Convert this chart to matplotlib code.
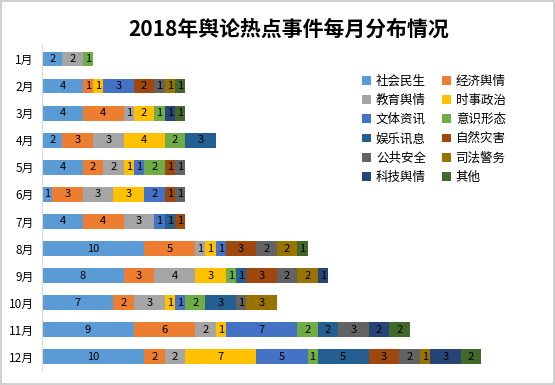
import matplotlib
matplotlib.use("Agg")
import matplotlib.pyplot as plt
import numpy as np

plt.rcParams["font.family"] = ["Noto Sans CJK SC", "DejaVu Sans"]

months = ["1月", "2月", "3月", "4月", "5月", "6月", "7月", "8月", "9月", "10月", "11月", "12月"]
categories = ["社会民生", "经济舆情", "教育舆情", "时事政治", "文体资讯", "意识形态",
              "娱乐讯息", "自然灾害", "公共安全", "司法警务", "科技舆情", "其他"]

# one list per category, values for Jan..Dec
shehui = [2, 4, 4, 2, 4, 1, 4, 10, 8, 7, 9, 10]
jingji = [0, 1, 4, 3, 2, 3, 4, 5, 3, 2, 6, 2]
jiaoyu = [2, 0, 1, 3, 2, 3, 3, 1, 4, 3, 2, 2]
shishi = [0, 1, 2, 4, 1, 3, 0, 1, 3, 1, 1, 7]
wenti = [0, 3, 0, 0, 1, 2, 1, 1, 0, 1, 7, 5]
yishi = [1, 0, 1, 2, 2, 0, 0, 0, 1, 2, 2, 1]
yule = [0, 0, 0, 3, 0, 0, 1, 0, 1, 3, 2, 5]
ziran = [0, 2, 0, 0, 1, 1, 1, 3, 3, 0, 0, 3]
gonggong = [0, 1, 0, 0, 1, 1, 0, 2, 2, 1, 3, 2]
sifa = [0, 1, 0, 0, 0, 0, 0, 2, 2, 3, 0, 1]
keji = [0, 0, 1, 0, 0, 0, 0, 0, 1, 0, 2, 3]
qita = [0, 1, 1, 0, 0, 0, 0, 1, 0, 0, 2, 2]

series = [shehui, jingji, jiaoyu, shishi, wenti, yishi, yule, ziran, gonggong, sifa, keji, qita]
colors = ["#5B9BD5", "#ED7D31", "#A5A5A5", "#FFC000", "#4472C4", "#70AD47",
          "#255E91", "#9E480E", "#636363", "#997300", "#264478", "#43682B"]

fig = plt.figure(figsize=(5.55, 3.85), dpi=100)
fig.patch.set_edgecolor("#d0d0d0")
fig.patch.set_linewidth(1.5)
ax = fig.add_axes([0.0757, 0.038, 0.92, 0.844])

y = np.arange(len(months))
left = np.zeros(len(months))
handles = []
for name, vals, col in zip(categories, series, colors):
    vals = np.array(vals, dtype=float)
    bars = ax.barh(y, vals, left=left, height=0.55, color=col, label=name)
    handles.append(bars)
    for b, v in zip(bars, vals):
        if v > 0:
            ax.text(b.get_x() + b.get_width() / 2, b.get_y() + b.get_height() / 2,
                    f"{int(v)}", ha="center", va="center", fontsize=8, color="black")
    left += vals

ax.set_xlim(0, 50)
ax.set_ylim(len(months) - 0.5, -0.5)
ax.set_yticks(y)
ax.set_yticklabels(months, fontsize=8.5)
ax.tick_params(axis="y", length=0, pad=6)
ax.set_xticks([])
for s in ["top", "right", "bottom"]:
    ax.spines[s].set_visible(False)
ax.spines["left"].set_color("#d9d9d9")

fig.text(0.52, 0.925, "2018年舆论热点事件每月分布情况", ha="center", va="center",
         fontsize=15, fontweight="bold")

# legend fills row by row: reorder for matplotlib's column-major layout
order = list(range(0, 12, 2)) + list(range(1, 12, 2))
ax.legend([handles[i] for i in order], [categories[i] for i in order],
          loc="upper left", bbox_to_anchor=(0.605, 0.945), ncol=2, frameon=False,
          fontsize=9, handlelength=0.7, handleheight=0.7, handletextpad=0.4,
          columnspacing=1.3, labelspacing=0.5)

fig.savefig("out.png", dpi=100)
